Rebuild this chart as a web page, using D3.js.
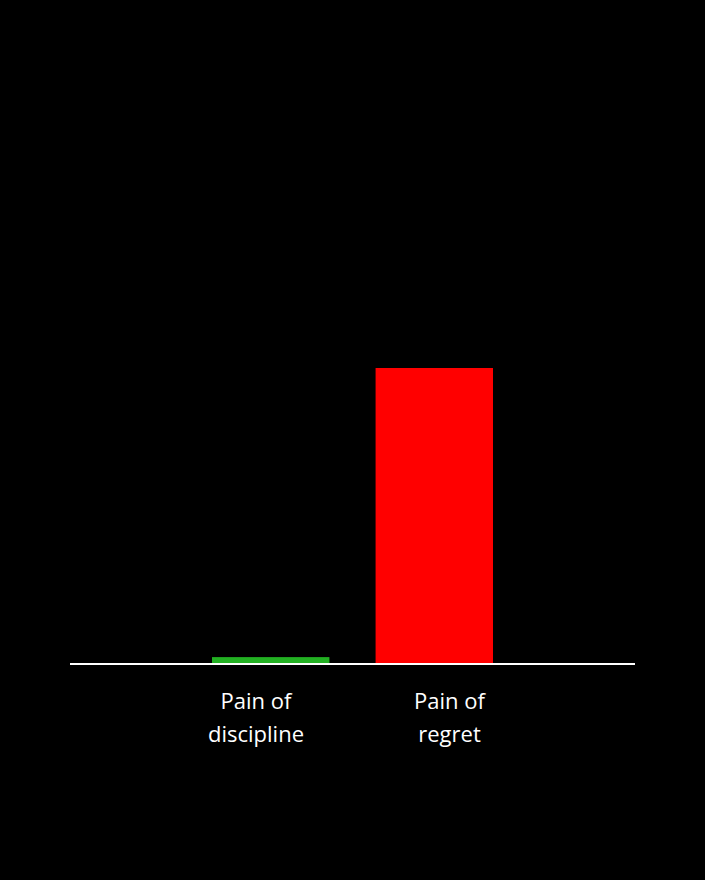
<!DOCTYPE html>
<html>
<head>
<meta charset="utf-8">
<script src="https://cdn.jsdelivr.net/npm/d3@7"></script>
<style>
html,body{margin:0;padding:0;background:#000;}
svg{display:block;}
</style>
</head>
<body>
<svg id="chart" width="705" height="880"></svg>
<script>
const categories = ["discipline", "regret"];
const labelLines = [["Pain of", "discipline"], ["Pain of", "regret"]];
const values = [2, 100];
const colors = ["#22b022", "#ff0000"];

const svg = d3.select("#chart");
svg.append("rect").attr("width", 705).attr("height", 880).attr("fill", "#000");

const baseY = 663;
const y = d3.scaleLinear().domain([0, 100]).range([baseY, 368]);
const xBars = d3.scaleBand().domain(categories).range([212, 493]).paddingInner(0.2822).paddingOuter(0);
const xLabels = d3.scalePoint().domain(categories).range([256, 449.5]);

svg.selectAll("rect.bar")
  .data(categories)
  .join("rect")
  .attr("class", "bar")
  .attr("x", d => xBars(d))
  .attr("width", xBars.bandwidth())
  .attr("y", (d, i) => y(values[i]))
  .attr("height", (d, i) => y(0) - y(values[i]))
  .attr("fill", (d, i) => colors[i]);

svg.append("line")
  .attr("x1", 70).attr("x2", 635)
  .attr("y1", baseY + 1).attr("y2", baseY + 1)
  .attr("stroke", "#fff").attr("stroke-width", 2);

const lbl = svg.selectAll("text.lbl")
  .data(categories)
  .join("text")
  .attr("class", "lbl")
  .attr("x", d => xLabels(d))
  .attr("y", 709)
  .attr("text-anchor", "middle")
  .attr("fill", "#fff")
  .style("font-family", "'Open Sans', 'Noto Sans', sans-serif")
  .style("font-size", "22px");

lbl.selectAll("tspan")
  .data((d, i) => labelLines[i].map(t => ({t, x: xLabels(d)})))
  .join("tspan")
  .attr("x", d => d.x)
  .attr("dy", (d, j) => j === 0 ? 0 : 33)
  .text(d => d.t);
</script>
</body>
</html>
